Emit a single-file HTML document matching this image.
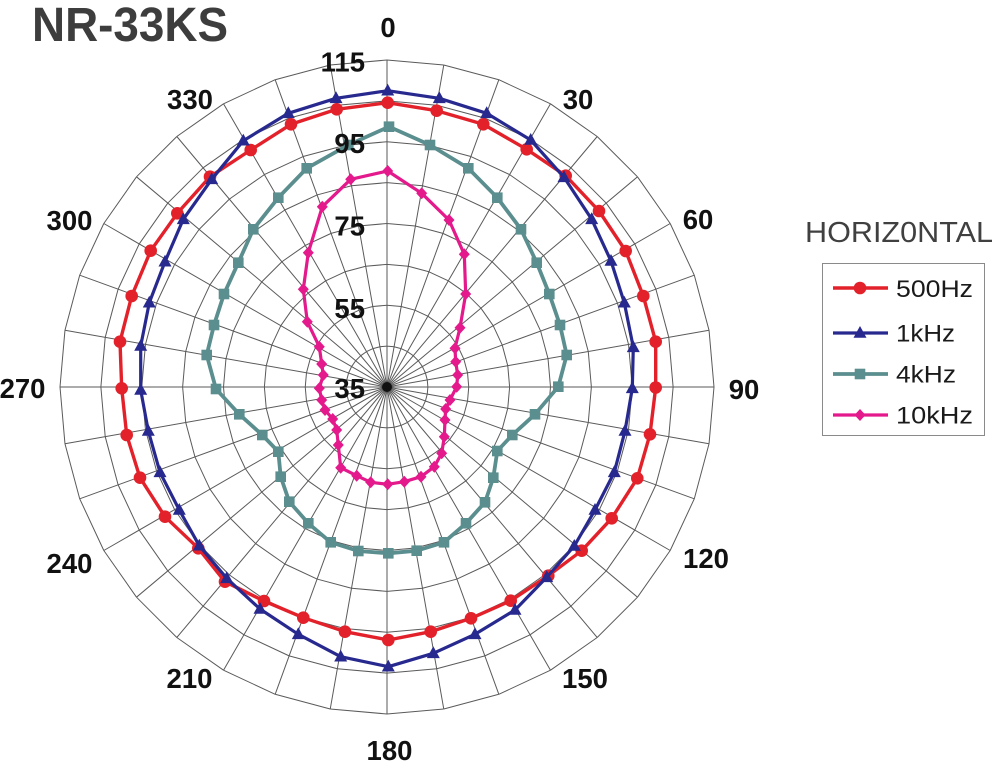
<!DOCTYPE html>
<html><head><meta charset="utf-8"><style>
html,body{margin:0;padding:0;background:#fff;width:1000px;height:771px;overflow:hidden}
svg{display:block}
text{font-family:"Liberation Sans",Arial,sans-serif}
.lb{font-weight:bold;font-size:27.5px;fill:#111}
.lg{font-size:24px;fill:#1a1a1a}
</style></head><body>
<svg width="1000" height="771" viewBox="0 0 1000 771" xmlns="http://www.w3.org/2000/svg">
<defs>
<g id="s">
<path d="M0,0L0,-327M0,-40.875L7.098,-40.254M0,-81.75L14.196,-80.508M0,-122.625L21.294,-120.762M0,-163.5L28.392,-161.016M0,-204.375L35.489,-201.27M0,-245.25L42.587,-241.524M0,-286.125L49.685,-281.778M0,-327L56.783,-322.032" fill="none" stroke="#5a5a5a" stroke-width="1"/>
</g>
<circle id="mc" r="6.3" fill="#e3212a"/>
<polygon id="mt" points="0,-7 6.5,4.8 -6.5,4.8" fill="#27298f"/>
<rect id="ms" x="-5.3" y="-5.3" width="10.6" height="10.6" fill="#5b8e8e"/>
<polygon id="md" points="0,-6 5.5,0 0,6 -5.5,0" fill="#e3198c"/>
</defs>
<rect width="1000" height="771" fill="#fff"/>
<g transform="translate(387,387)">
<use href="#s"/><use href="#s" transform="rotate(10)"/><use href="#s" transform="rotate(20)"/><use href="#s" transform="rotate(30)"/><use href="#s" transform="rotate(40)"/><use href="#s" transform="rotate(50)"/><use href="#s" transform="rotate(60)"/><use href="#s" transform="rotate(70)"/><use href="#s" transform="rotate(80)"/><use href="#s" transform="rotate(90)"/><use href="#s" transform="rotate(100)"/><use href="#s" transform="rotate(110)"/><use href="#s" transform="rotate(120)"/><use href="#s" transform="rotate(130)"/><use href="#s" transform="rotate(140)"/><use href="#s" transform="rotate(150)"/><use href="#s" transform="rotate(160)"/><use href="#s" transform="rotate(170)"/><use href="#s" transform="rotate(180)"/><use href="#s" transform="rotate(190)"/><use href="#s" transform="rotate(200)"/><use href="#s" transform="rotate(210)"/><use href="#s" transform="rotate(220)"/><use href="#s" transform="rotate(230)"/><use href="#s" transform="rotate(240)"/><use href="#s" transform="rotate(250)"/><use href="#s" transform="rotate(260)"/><use href="#s" transform="rotate(270)"/><use href="#s" transform="rotate(280)"/><use href="#s" transform="rotate(290)"/><use href="#s" transform="rotate(300)"/><use href="#s" transform="rotate(310)"/><use href="#s" transform="rotate(320)"/><use href="#s" transform="rotate(330)"/><use href="#s" transform="rotate(340)"/><use href="#s" transform="rotate(350)"/>
<circle r="5" fill="#111"/>
</g>

<!-- 500Hz -->
<polygon fill="none" stroke="#e3212a" stroke-width="3.4" stroke-linejoin="round" points="387.7,102.7 436.7,110.7 483.3,124.3 526.7,149.3 565.7,175.7 599,211 625.7,251 643.3,296 655.7,341.7 655.7,387.5 650,434.3 637.3,478.3 611.7,518.3 581.7,550.7 548.3,575.7 510.7,600.7 471,618.3 430.7,631.7 388.3,640 345,631.7 303.3,617.7 264,601 225,581.7 198.3,548.3 165,516.7 140,477.7 126.7,435 121.7,388.3 120,341.7 131.7,296 150.7,250.7 177.3,213.3 210,176.7 250.7,150 291,124.3 336.7,109.3"/>
<g>
<use href="#mc" x="387.7" y="102.7"/><use href="#mc" x="436.7" y="110.7"/><use href="#mc" x="483.3" y="124.3"/><use href="#mc" x="526.7" y="149.3"/><use href="#mc" x="565.7" y="175.7"/><use href="#mc" x="599" y="211"/><use href="#mc" x="625.7" y="251"/><use href="#mc" x="643.3" y="296"/><use href="#mc" x="655.7" y="341.7"/><use href="#mc" x="655.7" y="387.5"/><use href="#mc" x="650" y="434.3"/><use href="#mc" x="637.3" y="478.3"/><use href="#mc" x="611.7" y="518.3"/><use href="#mc" x="581.7" y="550.7"/><use href="#mc" x="548.3" y="575.7"/><use href="#mc" x="510.7" y="600.7"/><use href="#mc" x="471" y="618.3"/><use href="#mc" x="430.7" y="631.7"/><use href="#mc" x="388.3" y="640"/><use href="#mc" x="345" y="631.7"/><use href="#mc" x="303.3" y="617.7"/><use href="#mc" x="264" y="601"/><use href="#mc" x="225" y="581.7"/><use href="#mc" x="198.3" y="548.3"/><use href="#mc" x="165" y="516.7"/><use href="#mc" x="140" y="477.7"/><use href="#mc" x="126.7" y="435"/><use href="#mc" x="121.7" y="388.3"/><use href="#mc" x="120" y="341.7"/><use href="#mc" x="131.7" y="296"/><use href="#mc" x="150.7" y="250.7"/><use href="#mc" x="177.3" y="213.3"/><use href="#mc" x="210" y="176.7"/><use href="#mc" x="250.7" y="150"/><use href="#mc" x="291" y="124.3"/><use href="#mc" x="336.7" y="109.3"/>
</g>

<!-- 1kHz -->
<polygon fill="none" stroke="#27298f" stroke-width="3.2" stroke-linejoin="round" points="387.7,90.7 439.3,98.3 486.7,113.3 530.7,140 564,177.3 591.7,219.3 611,261 624.3,302.7 633.3,347.3 632.3,388.3 625,431 614.3,472.3 595,510 574.3,546 546.7,577.3 515,610 475,634.3 433.3,653.3 388.3,666.7 340.7,656.7 298.3,634.3 260,609 226.7,578.3 199.3,545.7 179.3,510 160,472.3 148.3,431 140.7,390 140.7,346 149.3,302.7 165,261.7 183.3,219.3 211.7,179.3 243.3,140.7 288.3,113.3 336,98.3"/>
<g>
<use href="#mt" x="387.7" y="90.7"/><use href="#mt" x="439.3" y="98.3"/><use href="#mt" x="486.7" y="113.3"/><use href="#mt" x="530.7" y="140"/><use href="#mt" x="564" y="177.3"/><use href="#mt" x="591.7" y="219.3"/><use href="#mt" x="611" y="261"/><use href="#mt" x="624.3" y="302.7"/><use href="#mt" x="633.3" y="347.3"/><use href="#mt" x="632.3" y="388.3"/><use href="#mt" x="625" y="431"/><use href="#mt" x="614.3" y="472.3"/><use href="#mt" x="595" y="510"/><use href="#mt" x="574.3" y="546"/><use href="#mt" x="546.7" y="577.3"/><use href="#mt" x="515" y="610"/><use href="#mt" x="475" y="634.3"/><use href="#mt" x="433.3" y="653.3"/><use href="#mt" x="388.3" y="666.7"/><use href="#mt" x="340.7" y="656.7"/><use href="#mt" x="298.3" y="634.3"/><use href="#mt" x="260" y="609"/><use href="#mt" x="226.7" y="578.3"/><use href="#mt" x="199.3" y="545.7"/><use href="#mt" x="179.3" y="510"/><use href="#mt" x="160" y="472.3"/><use href="#mt" x="148.3" y="431"/><use href="#mt" x="140.7" y="390"/><use href="#mt" x="140.7" y="346"/><use href="#mt" x="149.3" y="302.7"/><use href="#mt" x="165" y="261.7"/><use href="#mt" x="183.3" y="219.3"/><use href="#mt" x="211.7" y="179.3"/><use href="#mt" x="243.3" y="140.7"/><use href="#mt" x="288.3" y="113.3"/><use href="#mt" x="336" y="98.3"/>
</g>

<!-- 4kHz -->
<polygon fill="none" stroke="#5b8e8e" stroke-width="3.8" stroke-linejoin="round" points="389,126.7 430,145 468.3,168.3 497.3,197.7 521,229.3 536.7,262.7 549.3,294 560,325 566.7,355 558.3,386.7 535,414.3 512.3,435 497.3,451 493.3,477.7 485,502.3 466,523.3 444,542.3 416.7,550.7 388.3,553.3 358.3,551 330.7,542.3 308.3,523.3 289.3,501.7 280.7,476.7 278.3,451.7 262.3,435 239.3,414.3 216,389 206.7,355 214,325 224,294 238.3,262.7 253.3,229.3 278.3,197.7 306.7,168.3 348.3,145"/>
<g>
<use href="#ms" x="389" y="126.7"/><use href="#ms" x="430" y="145"/><use href="#ms" x="468.3" y="168.3"/><use href="#ms" x="497.3" y="197.7"/><use href="#ms" x="521" y="229.3"/><use href="#ms" x="536.7" y="262.7"/><use href="#ms" x="549.3" y="294"/><use href="#ms" x="560" y="325"/><use href="#ms" x="566.7" y="355"/><use href="#ms" x="558.3" y="386.7"/><use href="#ms" x="535" y="414.3"/><use href="#ms" x="512.3" y="435"/><use href="#ms" x="497.3" y="451"/><use href="#ms" x="493.3" y="477.7"/><use href="#ms" x="485" y="502.3"/><use href="#ms" x="466" y="523.3"/><use href="#ms" x="444" y="542.3"/><use href="#ms" x="416.7" y="550.7"/><use href="#ms" x="388.3" y="553.3"/><use href="#ms" x="358.3" y="551"/><use href="#ms" x="330.7" y="542.3"/><use href="#ms" x="308.3" y="523.3"/><use href="#ms" x="289.3" y="501.7"/><use href="#ms" x="280.7" y="476.7"/><use href="#ms" x="278.3" y="451.7"/><use href="#ms" x="262.3" y="435"/><use href="#ms" x="239.3" y="414.3"/><use href="#ms" x="216" y="389"/><use href="#ms" x="206.7" y="355"/><use href="#ms" x="214" y="325"/><use href="#ms" x="224" y="294"/><use href="#ms" x="238.3" y="262.7"/><use href="#ms" x="253.3" y="229.3"/><use href="#ms" x="278.3" y="197.7"/><use href="#ms" x="306.7" y="168.3"/><use href="#ms" x="348.3" y="145"/>
</g>

<!-- 10kHz -->
<polygon fill="none" stroke="#e3198c" stroke-width="3.2" stroke-linejoin="round" points="387.7,171 421.7,193.3 449,220 464.3,254.3 465.7,294 460,327.7 455,348.3 455.7,361.7 457.7,375 456.7,386.7 450,400 445.7,409 445,420 444.3,436.7 441.7,453.3 434.3,466.7 421,476.7 404.3,481.7 387.7,484.3 370.7,482.3 356.7,475.7 340.7,467.7 338.3,445 336.7,430 332.7,419 325,410 321.7,400 319.3,388.3 323.3,375 321.7,364 319.3,346.7 307.3,321.7 303.3,289.3 308.3,252.7 322.3,206.7 350.7,179.3"/>
<g>
<use href="#md" x="387.7" y="171"/><use href="#md" x="421.7" y="193.3"/><use href="#md" x="449" y="220"/><use href="#md" x="464.3" y="254.3"/><use href="#md" x="465.7" y="294"/><use href="#md" x="460" y="327.7"/><use href="#md" x="455" y="348.3"/><use href="#md" x="455.7" y="361.7"/><use href="#md" x="457.7" y="375"/><use href="#md" x="456.7" y="386.7"/><use href="#md" x="450" y="400"/><use href="#md" x="445.7" y="409"/><use href="#md" x="445" y="420"/><use href="#md" x="444.3" y="436.7"/><use href="#md" x="441.7" y="453.3"/><use href="#md" x="434.3" y="466.7"/><use href="#md" x="421" y="476.7"/><use href="#md" x="404.3" y="481.7"/><use href="#md" x="387.7" y="484.3"/><use href="#md" x="370.7" y="482.3"/><use href="#md" x="356.7" y="475.7"/><use href="#md" x="340.7" y="467.7"/><use href="#md" x="338.3" y="445"/><use href="#md" x="336.7" y="430"/><use href="#md" x="332.7" y="419"/><use href="#md" x="325" y="410"/><use href="#md" x="321.7" y="400"/><use href="#md" x="319.3" y="388.3"/><use href="#md" x="323.3" y="375"/><use href="#md" x="321.7" y="364"/><use href="#md" x="319.3" y="346.7"/><use href="#md" x="307.3" y="321.7"/><use href="#md" x="303.3" y="289.3"/><use href="#md" x="308.3" y="252.7"/><use href="#md" x="322.3" y="206.7"/><use href="#md" x="350.7" y="179.3"/>
</g>

<!-- angle labels -->
<g class="lb" text-anchor="middle">
<text x="388" y="37">0</text>
<text x="578" y="109">30</text>
<text x="698" y="229">60</text>
<text x="744" y="399">90</text>
<text x="706" y="568">120</text>
<text x="585" y="688">150</text>
<text x="389.5" y="760">180</text>
<text x="189.5" y="688">210</text>
<text x="69.5" y="573">240</text>
<text x="22.5" y="398">270</text>
<text x="69.5" y="230">300</text>
<text x="190" y="109">330</text>
</g>
<!-- radial labels -->
<g class="lb" text-anchor="end">
<text x="365" y="71.5">115</text>
<text x="365" y="153">95</text>
<text x="365" y="235.5">75</text>
<text x="365" y="318">55</text>
<text x="365" y="398">35</text>
</g>

<!-- title -->
<text x="32" y="41" font-size="48" font-weight="bold" fill="#3d3d3d" textLength="196" lengthAdjust="spacingAndGlyphs">NR-33KS</text>

<!-- legend -->
<text x="805" y="242" font-size="28.5" fill="#404040" textLength="188" lengthAdjust="spacingAndGlyphs">HORIZ0NTAL</text>
<rect x="822.5" y="263.5" width="162" height="172" fill="#fff" stroke="#8a8a8a" stroke-width="1"/>
<line x1="833" y1="288" x2="888" y2="288" stroke="#e3212a" stroke-width="3.4"/><use href="#mc" x="860" y="288"/>
<line x1="833" y1="333" x2="888" y2="333" stroke="#27298f" stroke-width="3.2"/><use href="#mt" x="860" y="333"/>
<line x1="833" y1="374" x2="888" y2="374" stroke="#5b8e8e" stroke-width="3.8"/><use href="#ms" x="860" y="374"/>
<line x1="833" y1="415" x2="888" y2="415" stroke="#e3198c" stroke-width="3.2"/><use href="#md" x="860" y="415"/>
<text class="lg" x="896" y="297" textLength="77" lengthAdjust="spacingAndGlyphs">500Hz</text>
<text class="lg" x="896" y="341.5" textLength="59" lengthAdjust="spacingAndGlyphs">1kHz</text>
<text class="lg" x="896" y="382.5" textLength="60" lengthAdjust="spacingAndGlyphs">4kHz</text>
<text class="lg" x="896" y="423.5" textLength="77" lengthAdjust="spacingAndGlyphs">10kHz</text>
</svg>
</body></html>
